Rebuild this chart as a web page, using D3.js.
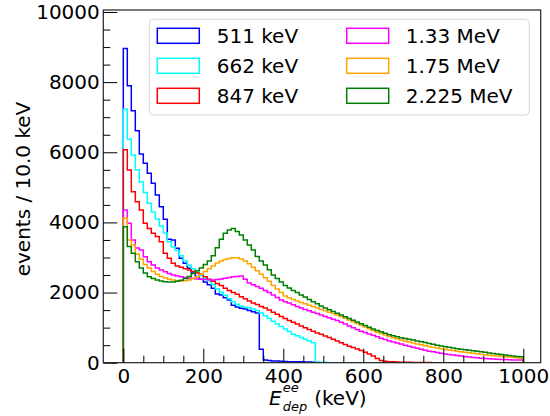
<!DOCTYPE html>
<html><head><meta charset="utf-8">
<script src="https://cdn.jsdelivr.net/npm/d3@7"></script>
<style>
html,body{margin:0;padding:0;background:#fff;}
svg{display:block;font-family:"DejaVu Sans",sans-serif;}
</style></head>
<body><svg id="c" width="550" height="416"></svg>
<script>
// ---- data: events per 10 keV bin, bins 0..1000 keV ----
const binWidth = 10;
const binEdges = d3.range(0, 1001, binWidth);
const seriesLabels = ["511 keV","662 keV","847 keV","1.33 MeV","1.75 MeV","2.225 MeV"];
const seriesColors = ["#0000ff","#00ffff","#ff0000","#ff00ff","#ffa500","#008000"];

const v511 = [8960,7900,7185,6615,5950,5685,5400,5115,4780,4450,
  4090,3520,3500,3260,2975,2835,2690,2560,2460,2380,
  2300,2220,2120,1960,1930,1850,1790,1640,1590,1550,
  1530,1490,1450,1420,380,80,60,50,45,40,
  35,30,30,25,25,20,20,15,0,0,
  0,0,0,0,0,0,0,0,0,0, 0,0,0,0,0,0,0,0,0,0,
  0,0,0,0,0,0,0,0,0,0, 0,0,0,0,0,0,0,0,0,0, 0,0,0,0,0,0,0,0,0,0];
const v662 = [7225,6370,5920,5500,5150,4850,4550,4300,4100,3900,
  3700,3450,3300,3200,3050,2900,2780,2680,2580,2490,
  2410,2330,2230,2100,2010,1920,1820,1740,1670,1610,
  1580,1560,1530,1490,1420,1340,1260,1180,1100,1030,
  960,890,810,770,720,670,620,570,20,10,
  5,0,0,0,0,0,0,0,0,0, 0,0,0,0,0,0,0,0,0,0,
  0,0,0,0,0,0,0,0,0,0, 0,0,0,0,0,0,0,0,0,0, 0,0,0,0,0,0,0,0,0,0];
const v847 = [6075,5495,4875,4590,4355,3975,3830,3690,3595,3450,
  3120,2975,2835,2760,2720,2680,2640,2600,2560,2520,
  2450,2380,2320,2260,2200,2120,2060,2000,1950,1880,
  1820,1760,1700,1660,1600,1560,1500,1440,1380,1320,
  1260,1200,1150,1100,1050,1000,950,900,850,810,
  760,720,670,620,570,520,470,430,390,350,
  300,250,190,120,60,40,30,25,20,15,
  12,10,8,6,5,4,3,2,2,1, 0,0,0,0,0,0,0,0,0,0, 0,0,0,0,0,0,0,0,0,0];
const v1330 = [4355,3975,3500,3270,3215,3020,2880,2785,2700,2640,
  2590,2540,2500,2470,2450,2430,2410,2400,2390,2380,
  2370,2365,2360,2370,2390,2410,2430,2450,2460,2470,
  2380,2270,2220,2170,2120,2060,2000,1930,1860,1790,
  1740,1700,1650,1600,1560,1520,1480,1440,1400,1360,
  1320,1280,1240,1200,1150,1100,1050,1000,950,900,
  860,820,780,740,700,660,620,590,560,530,
  500,470,440,410,380,355,330,310,290,270,
  250,235,220,205,190,175,160,150,140,130,
  120,112,105,98,92,88,84,80,77,74];
const v1750 = [4125,3500,3355,3100,2950,2800,2700,2600,2520,2460,
  2420,2380,2360,2340,2330,2340,2360,2400,2450,2520,
  2600,2680,2760,2840,2900,2940,2970,2990,2990,2960,
  2900,2820,2720,2620,2520,2420,2320,2200,2100,2000,
  1900,1850,1800,1760,1720,1680,1640,1600,1560,1520,
  1480,1440,1400,1360,1320,1270,1220,1170,1120,1070,
  1020,970,920,870,830,790,750,710,680,650,
  620,590,560,535,510,485,460,440,420,400,
  380,360,345,330,315,300,285,270,255,240,
  225,210,200,190,180,170,160,150,140,130];
const v2225 = [3880,3310,3120,2880,2700,2560,2450,2400,2360,2330,
  2310,2300,2300,2320,2350,2400,2460,2540,2620,2700,
  2800,2900,3050,3280,3520,3690,3785,3825,3740,3640,
  3500,3355,3215,3025,2900,2785,2650,2500,2400,2300,
  2200,2130,2060,2000,1930,1870,1800,1740,1680,1620,
  1560,1510,1460,1410,1360,1310,1260,1210,1160,1110,
  1060,1010,960,920,880,840,800,770,740,710,
  690,670,645,620,600,575,550,525,500,475,
  455,440,420,400,385,370,355,340,325,310,
  295,280,265,250,235,220,205,190,180,170];
const seriesValues = [v511, v662, v847, v1330, v1750, v2225];

const xTicks = [0,200,400,600,800,1000];
const yTicks = [0,2000,4000,6000,8000,10000];

// ---- layout ----
const L = 103.3, R = 540.7, T = 10, B = 362.7;
const x = d3.scaleLinear().domain([-50, 1043.5]).range([L, R]);
const y = d3.scaleLinear().domain([0, 10057]).range([B, T]);
const svg = d3.select("#c");

svg.append("clipPath").attr("id","clip").append("rect")
  .attr("x",L).attr("y",T).attr("width",R-L).attr("height",B-T);

// histograms
const line = d3.line().curve(d3.curveStepAfter).x(d=>x(d[0])).y(d=>y(d[1]));
const plot = svg.append("g").attr("clip-path","url(#clip)");
seriesValues.forEach((vals,i)=>{
  const pts = [[binEdges[0],0]];
  vals.forEach((v,j)=>pts.push([binEdges[j],v]));
  pts.push([binEdges[binEdges.length-1], vals[vals.length-1]]);
  pts.push([binEdges[binEdges.length-1], 0]);
  plot.append("path").attr("d",line(pts)).attr("fill","none")
    .attr("stroke",seriesColors[i]).attr("stroke-width",1.5)
    .attr("stroke-linejoin","miter");
});

// frame
svg.append("rect").attr("x",L).attr("y",T).attr("width",R-L).attr("height",B-T)
  .attr("fill","none").attr("stroke","#222").attr("stroke-width",1.2);

// axes
const fs = "20px";
function styleAxis(g){ g.select(".domain").remove();
  g.selectAll(".tick line").attr("stroke","#000").attr("stroke-width",1);
  g.selectAll("text").attr("font-size",fs).attr("font-family","DejaVu Sans").attr("fill","#000"); }

svg.append("g").attr("transform",`translate(0,${B})`)
  .call(d3.axisBottom(x).tickValues(d3.range(0,1001,50).filter(v=>v%200!==0)).tickSize(-7).tickFormat(""))
  .call(styleAxis);
svg.append("g").attr("transform",`translate(0,${B})`)
  .call(d3.axisBottom(x).tickValues(xTicks).tickSize(-14).tickPadding(6).tickFormat(d3.format("d")))
  .call(styleAxis);
svg.append("g").attr("transform",`translate(${L},0)`)
  .call(d3.axisLeft(y).tickValues(d3.range(0,10001,500).filter(v=>v%2000!==0)).tickSize(-7).tickFormat(""))
  .call(styleAxis);
svg.append("g").attr("transform",`translate(${L},0)`)
  .call(d3.axisLeft(y).tickValues(yTicks).tickSize(-14).tickPadding(3.5).tickFormat(d3.format("d")))
  .call(styleAxis);

// axis labels
svg.append("text").attr("transform","translate(30,189) rotate(-90)")
  .attr("text-anchor","middle").attr("font-size",fs).text("events / 10.0 keV");

const xl = svg.append("g");
const x0 = 269;
const tE = xl.append("text").attr("x",x0).attr("y",405).attr("font-size",fs)
  .attr("font-style","italic").text("E");
const wE = tE.node().getComputedTextLength();
xl.append("text").attr("x",x0+wE+1).attr("y",392).attr("font-size","13px")
  .attr("font-style","italic").text("ee");
const tD = xl.append("text").attr("x",x0+wE+1).attr("y",411).attr("font-size","13px")
  .attr("font-style","italic").text("dep");
const wD = tD.node().getComputedTextLength();
xl.append("text").attr("x",x0+wE+1+wD+7).attr("y",405).attr("font-size",fs).text("(keV)");

// legend
const lg = svg.append("g");
lg.append("rect").attr("x",149.3).attr("y",19.3).attr("width",380).attr("height",95.7).attr("rx",4)
  .attr("fill","#fff").attr("fill-opacity",0.8).attr("stroke","#d6d6d6").attr("stroke-width",1);
seriesLabels.forEach((lab,i)=>{
  const col = Math.floor(i/3), row = i%3;
  const hx = col===0?157.3:346.7, tx = col===0?216.7:405.7, cy = 35.8+row*30;
  lg.append("rect").attr("x",hx).attr("y",cy-7.5).attr("width",42).attr("height",15)
    .attr("fill","none").attr("stroke",seriesColors[i]).attr("stroke-width",1.5);
  lg.append("text").attr("x",tx).attr("y",cy+7.5).attr("font-size",fs).text(lab);
});
</script></body></html>
